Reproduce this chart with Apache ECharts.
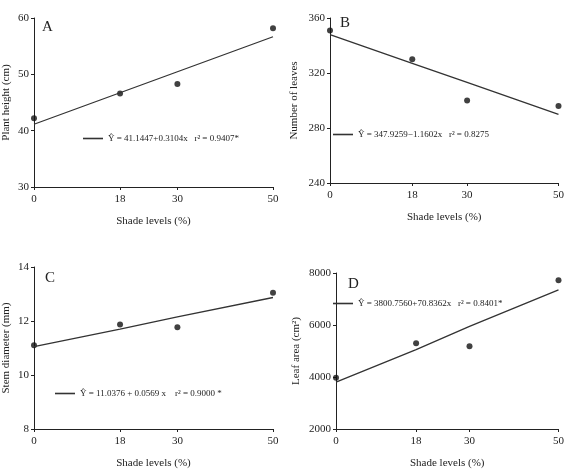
<!DOCTYPE html><html><head><meta charset="utf-8"><script src="https://cdn.jsdelivr.net/npm/echarts@6/dist/echarts.min.js"></script>
<style>html,body{margin:0;background:#fff}#c{width:567px;height:470px}</style></head><body><div id="c"></div><script>
const shade=[0,18,30,50];
const xTicks=[0,18,30,50];
const heightObs=[42.2,46.6,48.3,58.2];
const heightFit=[41.14,46.73,50.46,56.67];
const leavesObs=[351,330,300,296];
const leavesFit=[347.9,327.0,313.1,289.9];
const stemObs=[11.1,11.87,11.77,13.05];
const stemFit=[11.05,11.7,12.15,12.87];
const areaObs=[3970,5300,5180,7720];
const areaFit=[3800,5050,5950,7350];
const panels=[
 {id:'A',obs:heightObs,fit:heightFit,min:30,max:60,iv:10,name:'Plant height (cm)',eq:'Ŷ = 41.1447+0.3104x   r² = 0.9407*',g:{left:33,top:18,width:240,height:169},lg:{left:78,top:129},tag:[42,20]},
 {id:'B',obs:leavesObs,fit:leavesFit,min:240,max:360,iv:40,name:'Number of leaves',eq:'Ŷ = 347.9259−1.1602x   r² = 0.8275',g:{left:330,top:18,width:235,height:165},lg:{left:328,top:125},tag:[340,16]},
 {id:'C',obs:stemObs,fit:stemFit,min:8,max:14,iv:2,name:'Stem diameter (mm)',eq:'Ŷ = 11.0376 + 0.0569 x    r² = 0.9000 *',g:{left:33,top:267,width:240,height:169},lg:{left:50,top:384},tag:[45,271]},
 {id:'D',obs:areaObs,fit:areaFit,min:2000,max:8000,iv:2000,name:'Leaf area (cm²)',eq:'Ŷ = 3800.7560+70.8362x   r² = 0.8401*',g:{left:336,top:273,width:229,height:163},lg:{left:328,top:294},tag:[348,277]}
];
const F='Liberation Serif, DejaVu Serif, serif';
const opt={animation:false,textStyle:{fontFamily:F,color:'#222'},grid:[],xAxis:[],yAxis:[],series:[],legend:[],graphic:[]};
panels.forEach((p,i)=>{
 opt.grid.push(p.g);
 opt.xAxis.push({type:'value',gridIndex:i,min:0,max:50,name:'Shade levels (%)',nameLocation:'middle',nameGap:29,nameTextStyle:{fontFamily:F,fontSize:11,color:'#222'},
  axisLine:{onZero:false,lineStyle:{color:'#222'}},splitLine:{show:false},
  axisTick:{customValues:xTicks,length:3,lineStyle:{color:'#222'}},axisLabel:{customValues:xTicks,fontFamily:F,fontSize:11,color:'#222',margin:7}});
 opt.yAxis.push({type:'value',gridIndex:i,min:p.min,max:p.max,interval:p.iv,name:p.name,nameLocation:'middle',nameGap:p.id==='D'?34:p.id==='B'?30:22,nameRotate:90,nameTextStyle:{fontFamily:F,fontSize:11,color:'#222'},
  axisLine:{show:true,lineStyle:{color:'#222'}},splitLine:{show:false},axisTick:{length:3,lineStyle:{color:'#222'}},axisLabel:{fontFamily:F,fontSize:11,color:'#222',margin:5,formatter:v=>String(v)}});
 opt.series.push({type:'line',name:p.eq,xAxisIndex:i,yAxisIndex:i,data:shade.map((x,k)=>[x,p.fit[k]]),showSymbol:false,lineStyle:{color:'#333',width:1.3},itemStyle:{color:'#333'}});
 opt.series.push({type:'scatter',xAxisIndex:i,yAxisIndex:i,data:shade.map((x,k)=>[x,p.obs[k]]),symbolSize:6,itemStyle:{color:'#111'}});
 opt.legend.push({data:[{name:p.eq,icon:'path://M0,0L1,0L1,0.08L0,0.08Z'}],left:p.lg.left,top:p.lg.top,itemWidth:20,itemHeight:6,textStyle:{fontFamily:F,fontSize:9,color:'#222'}});
 opt.graphic.push({type:'text',left:p.tag[0],top:p.tag[1],style:{text:p.id,font:'15px '+F,fill:'#222'}});
});
echarts.init(document.getElementById('c')).setOption(opt);
</script></body></html>
